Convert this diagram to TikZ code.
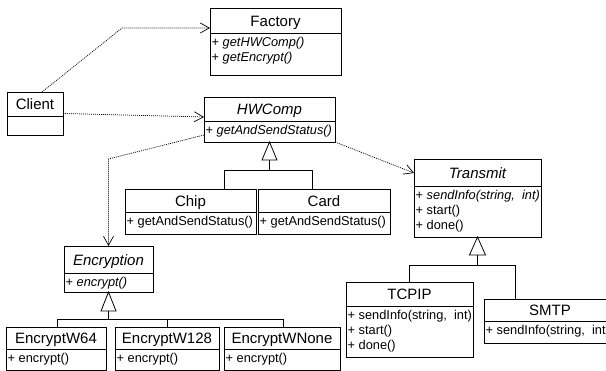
\documentclass[tikz,border=0pt]{standalone}
\usepackage{fontspec}
\setmainfont{Liberation Sans}
\usetikzlibrary{arrows.meta,fit,calc}
\tikzset{
  classbox/.style={draw, line width=0.8pt, inner sep=0pt, outer sep=0pt},
  sepline/.style={line width=0.8pt},
  ttl/.style={font=\fontsize{15}{18}\selectfont, inner sep=0pt, anchor=base},
  mem/.style={font=\fontsize{12.8}{15}\selectfont, inner sep=0pt, anchor=base west},
  dep/.style={line width=0.7pt, dash pattern=on 1pt off 1pt, -{Straight Barb[length=9pt,width=10pt]}},
  gen/.style={line width=0.8pt},
  tri/.style={draw, fill=white, line width=0.8pt}
}
% name, x1, y1, x2, ysep, y2, title, members
\newcommand\umlbox[8]{%
  \node[classbox, fit={(#2,#3) (#4,#6)}] (#1) {};
  \draw[sepline] (#2,#5) -- (#4,#5);
  \node[ttl] at ({(#2+#4)/2},{(#3+#5)/2+6}) {#7};
  \foreach \m [count=\i] in {#8} {\node[mem] at ({#2+1.5},{#5+14+15*(\i-1)}) {\m};}
}
\begin{document}
\begin{tikzpicture}[x=1pt,y=-1pt]
\useasboundingbox (0,0) rectangle (606,371);
\clip (0,0) rectangle (606,371);

\umlbox{factory}{210}{8}{341}{33}{75}{Factory}{{+ \textit{getHWComp()}},{+ \textit{getEncrypt()}}}
\umlbox{client}{7}{92}{63}{116}{135}{Client}{}
\umlbox{hwcomp}{204}{97}{335}{121}{142}{\itshape HWComp}{{+ \textit{getAndSendStatus()}}}
\umlbox{transmit}{414}{159}{541}{186}{237}{\itshape Transmit}{{+ \textit{sendInfo(string, \ int)}},{+ start()},{+ done()}}
\umlbox{chip}{125}{189}{256}{212}{234}{Chip}{{+ getAndSendStatus()}}
\umlbox{card}{258}{189}{390}{212}{234}{Card}{{+ getAndSendStatus()}}
\umlbox{encryption}{64}{246}{153}{273}{292}{\itshape Encryption}{{+ \textit{encrypt()}}}
\umlbox{w64}{6}{327}{106}{349}{370}{EncryptW64}{{+ encrypt()}}
\umlbox{w128}{115}{327}{219}{349}{370}{EncryptW128}{{+ encrypt()}}
\umlbox{wnone}{224}{327}{340}{349}{370}{EncryptWNone}{{+ encrypt()}}
\umlbox{tcpip}{346}{282}{473}{306}{357}{TCPIP}{{+ sendInfo(string, \ int)},{+ start()},{+ done()}}
\umlbox{smtp}{484}{299}{616}{321}{343}{SMTP}{{+ sendInfo(string, \ int)}}

% dependencies
\draw[dep] ([xshift=7pt]client.north) -- (122,28) -- (factory.west |- 0,28);
\draw[dep] (client.east) -- (hwcomp.west |- 0,117);
\draw[dep] (hwcomp.west |- 0,135) -- (encryption.north |- 0,159) -- (encryption.north);
\draw[dep] (hwcomp.south east) -- (transmit.west |- 0,173);

% generalization HWComp
\draw[gen] ($(hwcomp.south)+(0,18)$) -- ($(hwcomp.south)+(0,28)$);
\draw[gen] (chip.north -| 224,0) -- (224,170) -- (312,170) -- (card.north -| 312,0);
\draw[tri] (hwcomp.south) -- ++(-7.5,18) -- ++(15,0) -- cycle;

% generalization Encryption
\draw[gen] ($(encryption.south)+(0,19)$) -- ($(encryption.south)+(0,27)$);
\draw[gen] (w64.north -| 57,0) -- (57,319) -- (283,319) -- (wnone.north -| 283,0);
\draw[gen] (167,319) -- (w128.north -| 167,0);
\draw[tri] (encryption.south) -- ++(-7.5,19) -- ++(15,0) -- cycle;

% generalization Transmit
\draw[gen] ($(transmit.south)+(0,18)$) -- ($(transmit.south)+(0,28)$);
\draw[gen] (tcpip.north -| 409,0) -- (409,265) -- (515,265) -- (smtp.north -| 515,0);
\draw[tri] (transmit.south) -- ++(-8,18) -- ++(16,0) -- cycle;
\end{tikzpicture}
\end{document}
